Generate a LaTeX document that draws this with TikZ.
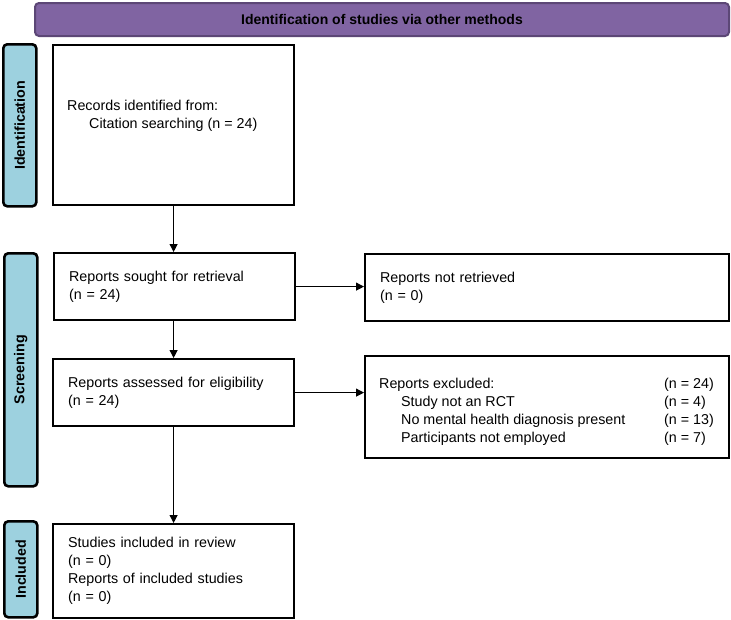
\documentclass[tikz,border=0pt]{standalone}
\usepackage{fontspec}
\setmainfont{Liberation Sans}
\usetikzlibrary{arrows.meta}
\definecolor{hdrfill}{HTML}{8064A2}
\definecolor{hdrline}{HTML}{5C4776}
\definecolor{sidefill}{HTML}{9DD1DF}
\begin{document}
\begin{tikzpicture}[x=1pt,y=-1pt,
  txt/.style={font=\fontsize{14.3}{18}\selectfont},
  box/.style={txt,draw,line width=2.2pt,anchor=north west,align=left,inner xsep=15pt,inner ysep=0pt},
  side/.style={draw,line width=2.6pt,fill=sidefill,rounded corners=4pt,inner sep=0pt,font=\fontsize{14.3}{18}\selectfont\bfseries},
  arr/.style={line width=1.1pt,-{Triangle[length=8pt,width=8pt]}}]
\useasboundingbox (0,0) rectangle (731,619);
% header
\node[draw=hdrline,line width=2pt,fill=hdrfill,rounded corners=4pt,minimum width=694,minimum height=33,inner sep=0pt,anchor=north west] (hdr) at (34,2)
  {\fontsize{14}{16}\selectfont\bfseries Identification of studies via other methods};
% side bars
\node[side,minimum width=33,minimum height=162,anchor=north west] (sid) at (2,43) {\rotatebox{90}{Identification}};
\node[side,minimum width=33,minimum height=233,anchor=north west] (sscr) at (3,252) {\rotatebox{90}{Screening}};
\node[side,minimum width=33,minimum height=96,anchor=north west] (sinc) at (3,520) {\rotatebox{90}{Included}};
% boxes
\node[box,text width=211pt,minimum height=160pt] (b1) at (52,44) {};
\node[txt,anchor=west,align=left,inner sep=0pt] (t1) at (67,116) {Records identified from:\\\hspace*{22pt}Citation searching (n = 24)};
\node[box,text width=211pt,minimum height=67pt] (b2) at (53,252) {Reports sought for retrieval\\(n = 24)};
\node[box,text width=211pt,minimum height=67pt] (b3) at (52,358) {Reports assessed for eligibility\\(n = 24)};
\node[box,text width=211pt,minimum height=94pt] (b5) at (52,523) {Studies included in review\\(n = 0)\\Reports of included studies\\(n = 0)};
\node[box,text width=334pt,minimum height=67pt] (b4) at (364,253) {Reports not retrieved\\(n = 0)};
\node[box,text width=334pt,minimum height=102pt] (b6) at (364,355) {};
\node[txt,anchor=west,align=left,inner sep=0pt] (t6) at (379,412) {\makebox[285pt][l]{Reports excluded:}\rlap{(n = 24)}\\
  \makebox[285pt][l]{\hspace*{22pt}Study not an RCT}\rlap{(n = 4)}\\
  \makebox[285pt][l]{\hspace*{22pt}No mental health diagnosis present}\rlap{(n = 13)}\\
  \makebox[285pt][l]{\hspace*{22pt}Participants not employed}\rlap{(n = 7)}};
% arrows
\draw[arr] (b1.south) -- (b2.north -| b1.south);
\draw[arr] (b2.south -| b1.south) -- (b3.north -| b1.south);
\draw[arr] (b3.south -| b1.south) -- (b5.north -| b1.south);
\draw[arr] (b2.east) -- (b2.east -| b4.west);
\draw[arr] (b3.east) -- (b3.east -| b6.west);
\end{tikzpicture}
\end{document}
